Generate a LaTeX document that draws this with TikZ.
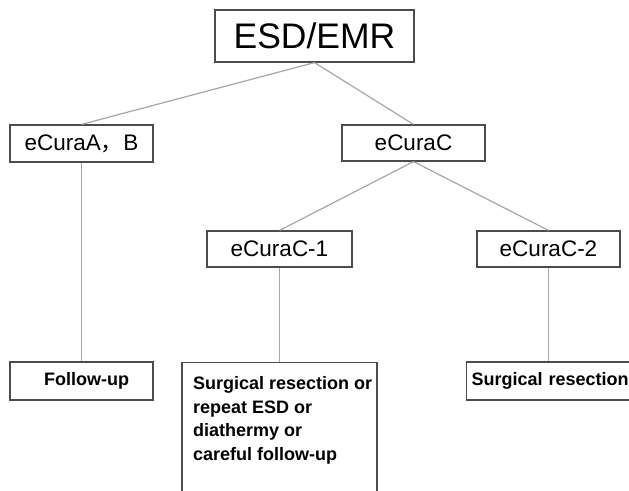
\documentclass[tikz,border=0pt]{standalone}
\usepackage{fontspec}
\setmainfont{Liberation Sans}
\newfontfamily\cjk{Noto Sans CJK JP}
\begin{document}
\begin{tikzpicture}[x=1pt,y=-1pt,
	box/.style={draw=black!70, line width=1.2pt, rectangle, inner sep=0pt, minimum width=143pt, minimum height=36pt, font=\fontsize{22.5}{26}\selectfont},
	endbox/.style={draw=black!70, line width=1.2pt, rectangle, inner sep=0pt, font=\fontsize{18}{23.5}\bfseries\selectfont},
	link/.style={draw=black!35, line width=1.2pt}]
	\useasboundingbox (0,0) rectangle (629,490);
	\clip (0,0) rectangle (629,490);
	
	% --- top ---
	\node[box, minimum width=199pt, minimum height=52pt, font=\fontsize{35.5}{40}\selectfont] (esd) at (314.5,36) {ESD/EMR};
	
	% --- second row ---
	\node[box, minimum height=37pt] (curaAB) at (81.5,143.5) {eCuraA{\cjk ，}B};
	\node[box] (curaC) at (413.5,143) {eCuraC};
	
	% --- third row ---
	\node[box, minimum width=145pt] (curaCa) at (279.5,249) {eCuraC-1};
	\node[box] (curaCb) at (548.5,249) {eCuraC-2};
	
	% --- bottom boxes ---
	\node[endbox, minimum width=143pt, minimum height=38pt] (follow) at (81.5,381) {\hspace*{10pt}Follow-up};
	\node[endbox, minimum width=195pt, minimum height=150pt, anchor=north] (resect) at (279.5,362) {};
	\node[endbox, draw=none, anchor=north west, align=left] (resecttxt) at ([shift={(11,14)}]resect.north west)
		{Surgical resection or\\repeat ESD or\\diathermy or\\careful follow-up};
	\node[endbox, minimum width=190pt, minimum height=38pt, anchor=west, text width=180pt, inner xsep=5pt, align=left] (surgery) at (466,381) {Surgical resection};
	
	% --- connectors ---
	\draw[link] (esd.south) -- (curaAB.north);
	\draw[link] (esd.south) -- (curaC.north);
	\draw[link] (curaC.south) -- (curaCa.north);
	\draw[link] (curaC.south) -- (curaCb.north);
	\draw[link] (curaAB.south) -- (follow.north);
	\draw[link] (curaCa.south) -- (resect.north);
	\draw[link] (curaCb.south) -- (curaCb.south |- surgery.north);
\end{tikzpicture}
\end{document}
